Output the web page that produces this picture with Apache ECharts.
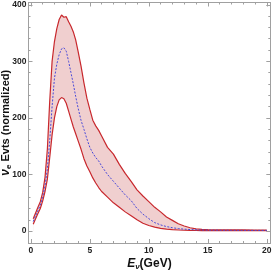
<!DOCTYPE html>
<html>
<head>
<meta charset="utf-8">
<script src="https://cdn.jsdelivr.net/npm/echarts@6/dist/echarts.min.js"></script>
<style>html,body{margin:0;padding:0;background:#fff}#c{width:273px;height:273px}</style>
</head>
<body>
<div id="c"></div>
<script>
const energies = [0.2,0.4,0.6,0.8,1.0,1.2,1.4,1.6,1.8,2.0,2.2,2.4,2.6,2.8,3.0,3.2,3.4,3.6,3.8,4.0,4.25,4.5,4.75,5.0,5.25,5.5,5.75,6.0,6.5,7.0,7.5,8.0,8.5,9.0,9.5,10.0,10.5,11.0,11.5,12.0,12.5,13.0,13.5,14.0,14.5,15,16,17,18,19,20];
const central = [17,27,36,46,60,80,110,160,220,270,295,312,322,324,318,300,280,260,238,218,196,180,163,148,138,130,124,115,100,88,76,64,54,40,30,22,15,11,8,6,4.5,3.5,2.8,2.3,2.0,1.8,1.6,1.5,1.4,1.3,1.3];
const upper = [22,32,42,52,68,95,145,230,300,335,358,374,382,378,379,370,362,352,338,318,292,262,235,215,196,186,178,168,148,136,118,102,88,73,62,52,42,34,25,19,13,9,6,4,3,2.5,2.3,2.2,2.1,2.0,2.0];
const lower = [12,22,31,40,53,70,92,130,170,200,220,232,236,234,226,212,198,184,172,160,145,128,115,105,94,85,77,70,60,50,42,34,27,20,14,10,7,5,3.5,2.5,2,1.5,1.2,1.1,1,1,1,1,1,1,1];
const xMajor = [0,5,10,15,20];
const xMinor = [1,2,3,4,6,7,8,9,11,12,13,14,16,17,18,19];
const yMajor = [0,100,200,300,400];
const yMinor = [20,40,60,80,120,140,160,180,220,240,260,280,320,340,360,380];

const pair = a => energies.map((x,i)=>[x,a[i]]);

const gray = '#a0a0a0';
const XMIN=-0.2, XMAX=20.3, YMIN=-21, YMAX=404;
const lab = {margin:3, color:'#222', fontSize:8.5, fontWeight:'bold', fontFamily:'Liberation Sans'};
function xa(pos, vals, len, labels, extra){
  return Object.assign({type:'value', position:pos, min:XMIN, max:XMAX, splitLine:{show:false},
    axisLine:{show:true, onZero:false, lineStyle:{color:gray,width:1}},
    axisTick:{show:true, inside:true, length:len, customValues:vals, lineStyle:{color:gray}},
    axisLabel:Object.assign({show:labels, customValues:vals}, lab)}, extra||{});
}
function ya(pos, vals, len, labels, extra){
  return Object.assign({type:'value', position:pos, min:YMIN, max:YMAX, splitLine:{show:false},
    axisLine:{show:true, onZero:false, lineStyle:{color:gray,width:1}},
    axisTick:{show:true, inside:true, length:len, customValues:vals, lineStyle:{color:gray}},
    axisLabel:Object.assign({show:labels, customValues:vals}, lab, {margin:2})}, extra||{});
}
const chart = echarts.init(document.getElementById('c'), null, {renderer:'canvas'});
chart.setOption({
  animation:false,
  grid:{left:28.5, right:2.7, top:2.5, bottom:30, containLabel:false, outerBoundsMode:'none'},
  xAxis:[
    xa('bottom', xMajor, 4, true, {name:'{e|E}{s|ν}{n|(GeV)}', nameLocation:'middle', nameGap:14, nameMoveOverlap:false,
      nameTextStyle:{rich:{e:{fontSize:12,fontWeight:'bold',fontStyle:'italic',fontFamily:'Liberation Sans',color:'#111'},
        s:{fontSize:8,fontWeight:'bold',fontStyle:'italic',fontFamily:'Liberation Sans',color:'#111',padding:[6,0,0,0]},
        n:{fontSize:12,fontWeight:'bold',fontFamily:'Liberation Sans',color:'#111'}}}}),
    xa('bottom', xMinor, 2, false),
    xa('top', xMajor, 4, false),
    xa('top', xMinor, 2, false)
  ],
  yAxis:[
    ya('left', yMajor, 4, true, {name:'{v|ν}{s|e}{n| Evts (normalized)}', nameLocation:'middle', nameGap:15.5, nameRotate:90, nameMoveOverlap:false,
      nameTextStyle:{rich:{v:{fontSize:12,fontWeight:'bold',fontStyle:'italic',fontFamily:'Liberation Sans',color:'#111'},
        s:{fontSize:8,fontWeight:'bold',fontFamily:'Liberation Sans',color:'#111',padding:[6,0,0,0]},
        n:{fontSize:11,fontWeight:'bold',fontFamily:'Liberation Sans',color:'#111'}}}}),
    ya('left', yMinor, 2, false),
    ya('right', yMajor, 4, false),
    ya('right', yMinor, 2, false)
  ],
  series:[
    {type:'line', data:pair(upper), symbol:'none', lineStyle:{opacity:0}, areaStyle:{color:'#f0cfcf', opacity:1, origin:0}, silent:true, z:1},
    {type:'line', data:pair(lower), symbol:'none', lineStyle:{opacity:0}, areaStyle:{color:'#ffffff', opacity:1, origin:0}, silent:true, z:1},
    {type:'line', data:pair(upper), symbol:'none', lineStyle:{color:'#c8282d', width:1.2}, z:3},
    {type:'line', data:pair(lower), symbol:'none', lineStyle:{color:'#c8282d', width:1.2}, z:3},
    {type:'line', data:pair(central), symbol:'none', lineStyle:{color:'#4a4ad8', width:1, type:[2,1.5]}, z:4}
  ]
});
</script>
</body>
</html>
